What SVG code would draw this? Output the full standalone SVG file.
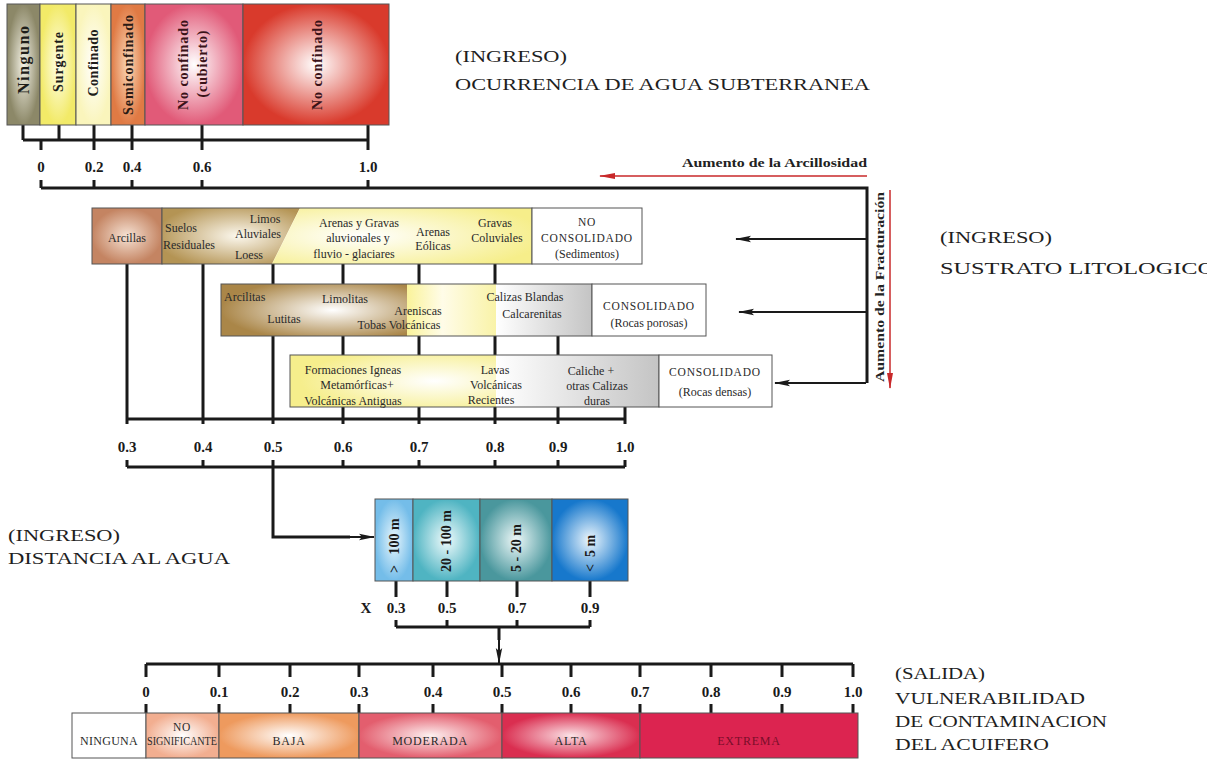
<svg xmlns="http://www.w3.org/2000/svg" width="1207" height="759" viewBox="0 0 1207 759">
<style>
.t{font-family:"Liberation Serif","Times New Roman",serif;fill:#222}
.b{font-weight:bold}
.num{font-family:"Liberation Serif","Times New Roman",serif;font-weight:bold;font-size:15px;fill:#1a1a1a;text-anchor:middle}
.lab{font-family:"Liberation Serif","Times New Roman",serif;font-size:12px;fill:#2a2a2a}
.cap{font-family:"Liberation Serif","Times New Roman",serif;font-size:11.5px;fill:#2a2a2a;letter-spacing:0.8px}
.mid{text-anchor:middle}
.hd{font-family:"Liberation Serif","Times New Roman",serif;font-size:17px;fill:#1e1e1e}
.box{stroke:#555;stroke-width:1}
.ln{stroke:#1a1a1a;stroke-width:3;fill:none}
.arw{stroke:#1a1a1a;stroke-width:2}
.rot{font-family:"Liberation Serif","Times New Roman",serif;font-weight:bold;font-size:14px;text-anchor:middle}
.rs{font-family:"Liberation Serif","Times New Roman",serif;font-weight:bold;font-size:14px;fill:#1a1a1a}
</style>
<defs>
<radialGradient id="gNin"><stop offset="0" stop-color="#f4f2e6"/><stop offset="1" stop-color="#8c8868"/></radialGradient>
<radialGradient id="gSur"><stop offset="0" stop-color="#fffee8"/><stop offset="1" stop-color="#f2ea68"/></radialGradient>
<radialGradient id="gCon"><stop offset="0" stop-color="#ffffff"/><stop offset="1" stop-color="#faf5bc"/></radialGradient>
<radialGradient id="gSemi"><stop offset="0" stop-color="#fad8b8"/><stop offset="1" stop-color="#e07a44"/></radialGradient>
<radialGradient id="gCub"><stop offset="0" stop-color="#ffffff"/><stop offset="1" stop-color="#e15a78"/></radialGradient>
<radialGradient id="gNoc"><stop offset="0" stop-color="#ffffff"/><stop offset="1" stop-color="#d93a2c"/></radialGradient>
<radialGradient id="gArc"><stop offset="0" stop-color="#f6e2d4"/><stop offset="1" stop-color="#c48462"/></radialGradient>
<radialGradient id="gSue" cx="0.55" cy="0.5" r="0.6"><stop offset="0" stop-color="#fcf8ee"/><stop offset="1" stop-color="#b49454"/></radialGradient>
<radialGradient id="gYel1" cx="0.35" cy="0.5" r="0.7"><stop offset="0" stop-color="#ffffff"/><stop offset="1" stop-color="#f6ee8a"/></radialGradient>
<radialGradient id="gBr2" cx="0.6" cy="0.5" r="0.6"><stop offset="0" stop-color="#ffffff"/><stop offset="1" stop-color="#aa8648"/></radialGradient>
<linearGradient id="gYel2"><stop offset="0" stop-color="#faf39a"/><stop offset="0.4" stop-color="#fffce8"/><stop offset="1" stop-color="#f9f3a8"/></linearGradient>
<linearGradient id="gGray"><stop offset="0" stop-color="#ffffff"/><stop offset="1" stop-color="#c4c4c4"/></linearGradient>
<radialGradient id="gYel3" cx="0.7" cy="0.5" r="0.65"><stop offset="0" stop-color="#ffffff"/><stop offset="1" stop-color="#f6ee8c"/></radialGradient>
<radialGradient id="gD1"><stop offset="0" stop-color="#e8f6fd"/><stop offset="1" stop-color="#74bde9"/></radialGradient>
<radialGradient id="gD2"><stop offset="0" stop-color="#f0fbfc"/><stop offset="1" stop-color="#4fb4c2"/></radialGradient>
<radialGradient id="gD3"><stop offset="0" stop-color="#eef8f8"/><stop offset="1" stop-color="#4a979d"/></radialGradient>
<radialGradient id="gD4"><stop offset="0" stop-color="#eef7fd"/><stop offset="1" stop-color="#1778cc"/></radialGradient>
<radialGradient id="gNS"><stop offset="0" stop-color="#ffffff"/><stop offset="1" stop-color="#f2ae90"/></radialGradient>
<radialGradient id="gBaja"><stop offset="0" stop-color="#ffffff"/><stop offset="1" stop-color="#ee9a5e"/></radialGradient>
<radialGradient id="gMod"><stop offset="0" stop-color="#fdf0f0"/><stop offset="1" stop-color="#e35e6e"/></radialGradient>
<radialGradient id="gAlta"><stop offset="0" stop-color="#fbe2e6"/><stop offset="1" stop-color="#da2e50"/></radialGradient>
<marker id="ak" markerWidth="16" markerHeight="8" refX="15" refY="4" orient="auto" markerUnits="userSpaceOnUse"><path d="M0,0.8 L16,4 L0,7.2 L3,4 Z" fill="#1a1a1a"/></marker>
<marker id="ar" markerWidth="16" markerHeight="8" refX="15" refY="4" orient="auto" markerUnits="userSpaceOnUse"><path d="M0,1 L16,4 L0,7 Z" fill="#c8282a"/></marker>
</defs>

<!-- Connectors -->
<g id="connectors">
  <path class="ln" d="M23,125 V140 M59,125 V140 M23,140 H368 M41,140 V150 M94,125 V150 M132,125 V150 M202,125 V150 M368,125 V150"/>
  <path class="ln" d="M41,180 V188 M94,180 V188 M132,180 V188 M202,180 V188 M368,180 V188 M41,188 H867 V383"/>
  <line class="arw" x1="866" y1="239" x2="736" y2="239" marker-end="url(#ak)"/>
  <line class="arw" x1="866" y1="312" x2="739" y2="312" marker-end="url(#ak)"/>
  <line class="arw" x1="866" y1="383" x2="775" y2="383" marker-end="url(#ak)"/>
  <line x1="867" y1="176" x2="600" y2="176" stroke="#c8282a" stroke-width="1.5" marker-end="url(#ar)"/>
  <line x1="890" y1="190" x2="890" y2="388" stroke="#c8282a" stroke-width="1.5" marker-end="url(#ar)"/>
  <path class="ln" d="M127,264 V424 M203,264 V424 M273,264 V424 M343,264 V424 M419,264 V424 M495,264 V424 M558,336 V424 M625,407 V424 M127,419 H625"/>
  <path class="ln" d="M127,460 V467 M203,460 V467 M273,460 V467 M343,460 V467 M419,460 V467 M495,460 V467 M558,460 V467 M625,460 V467 M127,467 H625"/>
  <path class="ln" d="M273,467 V537 H350"/>
  <line class="arw" x1="345" y1="537" x2="374" y2="537" marker-end="url(#ak)"/>
  <path class="ln" d="M396,581 V597 M447,581 V597 M517,581 V597 M590,581 V597 M396,620 V627 M447,620 V627 M517,620 V627 M590,620 V627 M396,627 H590 M499,627 V640"/>
  <line class="arw" x1="499" y1="638" x2="499" y2="663" marker-end="url(#ak)"/>
  <path class="ln" d="M146,664 H853 M146,664 V677 M219,664 V677 M290,664 V677 M359,664 V677 M433,664 V677 M502,664 V677 M571,664 V677 M640,664 V677 M711,664 V677 M782,664 V677 M853,664 V677"/>
  <path class="ln" d="M146,704 V713 M219,704 V713 M290,704 V713 M359,704 V713 M433,704 V713 M502,704 V713 M571,704 V713 M640,704 V713 M711,704 V713 M782,704 V713 M853,704 V713"/>
</g>

<g id="ocurrencia">
  <rect class="box" x="7" y="4" width="33" height="121" fill="url(#gNin)"/>
  <rect class="box" x="40" y="4" width="36" height="121" fill="url(#gSur)"/>
  <rect class="box" x="76" y="4" width="35" height="121" fill="url(#gCon)"/>
  <rect class="box" x="111" y="4" width="34" height="121" fill="url(#gSemi)"/>
  <rect class="box" x="145" y="4" width="98" height="121" fill="url(#gCub)"/>
  <rect class="box" x="243" y="4" width="146" height="121" fill="url(#gNoc)"/>
  <text class="rot" fill="#1e1e1a" transform="translate(29,60) rotate(-90)" style="font-size:16px" textLength="68" lengthAdjust="spacing">Ninguno</text>
  <text class="rot" fill="#1e1e1a" transform="translate(63,62) rotate(-90)" textLength="60" lengthAdjust="spacing">Surgente</text>
  <text class="rot" fill="#1e1e1a" transform="translate(98,63) rotate(-90)" textLength="67" lengthAdjust="spacing">Confinado</text>
  <text class="rot" fill="#2a1a14" transform="translate(133,65) rotate(-90)" textLength="100" lengthAdjust="spacing">Semiconfinado</text>
  <text class="rot" fill="#3a1218" transform="translate(188,65) rotate(-90)" textLength="90" lengthAdjust="spacing">No confinado</text>
  <text class="rot" fill="#3a1218" transform="translate(207,64) rotate(-90)" textLength="67" lengthAdjust="spacing">(cubierto)</text>
  <text class="rot" fill="#3a1218" transform="translate(322,65) rotate(-90)" textLength="90" lengthAdjust="spacing">No confinado</text>
  <text class="num" x="41" y="172">0</text>
  <text class="num" x="94" y="172">0.2</text>
  <text class="num" x="132" y="172">0.4</text>
  <text class="num" x="202" y="172">0.6</text>
  <text class="num" x="368" y="172">1.0</text>
</g>

<g id="titulo-ocurrencia">
  <text class="hd" x="455" y="62" textLength="112" lengthAdjust="spacingAndGlyphs">(INGRESO)</text>
  <text class="hd" x="455" y="90" textLength="415" lengthAdjust="spacingAndGlyphs">OCURRENCIA DE AGUA SUBTERRANEA</text>
</g>

<g id="ejes-tendencia">
  <text class="t b" x="682" y="167" font-size="13.5" textLength="185" lengthAdjust="spacingAndGlyphs">Aumento de la Arcillosidad</text>
  <text class="t b" font-size="13.5" text-anchor="middle" transform="translate(884,287) rotate(-90)" textLength="190" lengthAdjust="spacingAndGlyphs">Aumento de la Fracturación</text>
</g>

<g id="no-consolidado">
  <rect class="box" x="92" y="208" width="70" height="56" fill="url(#gArc)"/>
  <polygon points="162,208 300,208 272,264 162,264" fill="url(#gSue)"/>
  <polygon points="300,208 532,208 532,264 272,264" fill="url(#gYel1)"/>
  <rect class="box" x="162" y="208" width="370" height="56" fill="none"/>
  <rect class="box" x="532" y="208" width="110" height="56" fill="#fff"/>
  <text class="lab mid" x="127" y="242">Arcillas</text>
  <text class="lab" x="165" y="232">Suelos</text>
  <text class="lab" x="163" y="249">Residuales</text>
  <text class="lab mid" x="265" y="223">Limos</text>
  <text class="lab mid" x="258" y="238">Aluviales</text>
  <text class="lab mid" x="249" y="259">Loess</text>
  <text class="lab mid" x="359" y="227">Arenas y Gravas</text>
  <text class="lab mid" x="358" y="242">aluvionales y</text>
  <text class="lab mid" x="354" y="258">fluvio - glaciares</text>
  <text class="lab mid" x="433" y="236">Arenas</text>
  <text class="lab mid" x="433" y="250">Eólicas</text>
  <text class="lab mid" x="495" y="227">Gravas</text>
  <text class="lab mid" x="497" y="242">Coluviales</text>
  <text class="cap mid" x="587" y="226">NO</text>
  <text class="cap mid" x="587" y="242">CONSOLIDADO</text>
  <text class="lab mid" x="587" y="258">(Sedimentos)</text>
</g>

<g id="consolidado-poroso">
  <rect x="221" y="284" width="186" height="52" fill="url(#gBr2)"/>
  <rect x="407" y="284" width="89" height="52" fill="url(#gYel2)"/>
  <rect x="496" y="284" width="96" height="52" fill="url(#gGray)"/>
  <rect class="box" x="221" y="284" width="371" height="52" fill="none"/>
  <rect class="box" x="592" y="284" width="114" height="52" fill="#fff"/>
  <text class="lab" x="224" y="301">Arcilitas</text>
  <text class="lab mid" x="345" y="303">Limolitas</text>
  <text class="lab mid" x="284" y="323">Lutitas</text>
  <text class="lab mid" x="418" y="315">Areniscas</text>
  <text class="lab mid" x="399" y="329">Tobas Volcánicas</text>
  <text class="lab mid" x="525" y="301">Calizas Blandas</text>
  <text class="lab mid" x="532" y="318">Calcarenitas</text>
  <text class="cap mid" x="649" y="310">CONSOLIDADO</text>
  <text class="lab mid" x="649" y="327">(Rocas porosas)</text>
</g>

<g id="consolidado-denso">
  <rect x="290" y="355" width="206" height="52" fill="url(#gYel3)"/>
  <rect x="496" y="355" width="163" height="52" fill="url(#gGray)"/>
  <rect class="box" x="290" y="355" width="369" height="52" fill="none"/>
  <rect class="box" x="659" y="355" width="113" height="52" fill="#fff"/>
  <text class="lab mid" x="353" y="374">Formaciones Igneas</text>
  <text class="lab mid" x="357" y="389">Metamórficas+</text>
  <text class="lab mid" x="353" y="405">Volcánicas Antiguas</text>
  <text class="lab mid" x="495" y="374">Lavas</text>
  <text class="lab mid" x="496" y="389">Volcánicas</text>
  <text class="lab mid" x="491" y="404">Recientes</text>
  <text class="lab mid" x="591" y="375">Caliche +</text>
  <text class="lab mid" x="597" y="390">otras Calizas</text>
  <text class="lab mid" x="597" y="405">duras</text>
  <text class="cap mid" x="715" y="376">CONSOLIDADO</text>
  <text class="lab mid" x="715" y="396">(Rocas densas)</text>
</g>

<g id="escala-litologia">
  <text class="num" x="127" y="452">0.3</text>
  <text class="num" x="203" y="452">0.4</text>
  <text class="num" x="273" y="452">0.5</text>
  <text class="num" x="343" y="452">0.6</text>
  <text class="num" x="419" y="452">0.7</text>
  <text class="num" x="495" y="452">0.8</text>
  <text class="num" x="558" y="452">0.9</text>
  <text class="num" x="625" y="452">1.0</text>
</g>

<g id="titulo-sustrato">
  <text class="hd" x="940" y="243" textLength="112" lengthAdjust="spacingAndGlyphs">(INGRESO)</text>
  <text class="hd" x="940" y="274" textLength="275" lengthAdjust="spacingAndGlyphs">SUSTRATO LITOLOGICO</text>
</g>

<g id="titulo-distancia">
  <text class="hd" x="8" y="541" textLength="112" lengthAdjust="spacingAndGlyphs">(INGRESO)</text>
  <text class="hd" x="8" y="564" textLength="222" lengthAdjust="spacingAndGlyphs">DISTANCIA AL AGUA</text>
</g>

<g id="distancia">
  <rect class="box" x="375" y="499" width="38" height="82" fill="url(#gD1)"/>
  <rect class="box" x="413" y="499" width="67" height="82" fill="url(#gD2)"/>
  <rect class="box" x="480" y="499" width="72" height="82" fill="url(#gD3)"/>
  <rect class="box" x="552" y="499" width="76" height="82" fill="url(#gD4)"/>
  <text class="rs" transform="translate(399,573) rotate(-90)" xml:space="preserve">&gt;   100 m</text>
  <text class="rs" transform="translate(451,572) rotate(-90)">20 - 100 m</text>
  <text class="rs" transform="translate(521,572) rotate(-90)">5 - 20 m</text>
  <text class="rs" transform="translate(595,572) rotate(-90)" xml:space="preserve">&lt;  5 m</text>
  <text class="num" x="366" y="613">X</text>
  <text class="num" x="396" y="613">0.3</text>
  <text class="num" x="447" y="613">0.5</text>
  <text class="num" x="517" y="613">0.7</text>
  <text class="num" x="590" y="613">0.9</text>
</g>

<g id="vulnerabilidad">
  <rect class="box" x="72" y="713" width="74" height="45" fill="#fff"/>
  <rect class="box" x="146" y="713" width="73" height="45" fill="url(#gNS)"/>
  <rect class="box" x="219" y="713" width="140" height="45" fill="url(#gBaja)"/>
  <rect class="box" x="359" y="713" width="143" height="45" fill="url(#gMod)"/>
  <rect class="box" x="502" y="713" width="138" height="45" fill="url(#gAlta)"/>
  <rect class="box" x="640" y="713" width="218" height="45" fill="#dc2450"/>
  <text class="cap mid" x="109" y="745" style="letter-spacing:0.3px;font-size:12px">NINGUNA</text>
  <text class="cap mid" x="182" y="731">NO</text>
  <text class="lab mid" x="182" y="745" font-size="9.5" textLength="70" lengthAdjust="spacingAndGlyphs">SIGNIFICANTE</text>
  <text class="cap mid" x="289" y="745" style="font-size:12px">BAJA</text>
  <text class="cap mid" x="430" y="745" style="font-size:12px">MODERADA</text>
  <text class="cap mid" x="571" y="745" style="font-size:12px">ALTA</text>
  <text class="cap mid" x="749" y="745" style="font-size:12px;fill:#7a0e2a">EXTREMA</text>
  <text class="num" x="146" y="697">0</text>
  <text class="num" x="219" y="697">0.1</text>
  <text class="num" x="290" y="697">0.2</text>
  <text class="num" x="359" y="697">0.3</text>
  <text class="num" x="433" y="697">0.4</text>
  <text class="num" x="502" y="697">0.5</text>
  <text class="num" x="571" y="697">0.6</text>
  <text class="num" x="640" y="697">0.7</text>
  <text class="num" x="711" y="697">0.8</text>
  <text class="num" x="782" y="697">0.9</text>
  <text class="num" x="853" y="697">1.0</text>
</g>

<g id="titulo-salida">
  <text class="hd" x="895" y="679" textLength="90" lengthAdjust="spacingAndGlyphs">(SALIDA)</text>
  <text class="hd" x="895" y="704" textLength="190" lengthAdjust="spacingAndGlyphs">VULNERABILIDAD</text>
  <text class="hd" x="895" y="727" textLength="212" lengthAdjust="spacingAndGlyphs">DE CONTAMINACION</text>
  <text class="hd" x="895" y="750" textLength="154" lengthAdjust="spacingAndGlyphs">DEL ACUIFERO</text>
</g>
</svg>
